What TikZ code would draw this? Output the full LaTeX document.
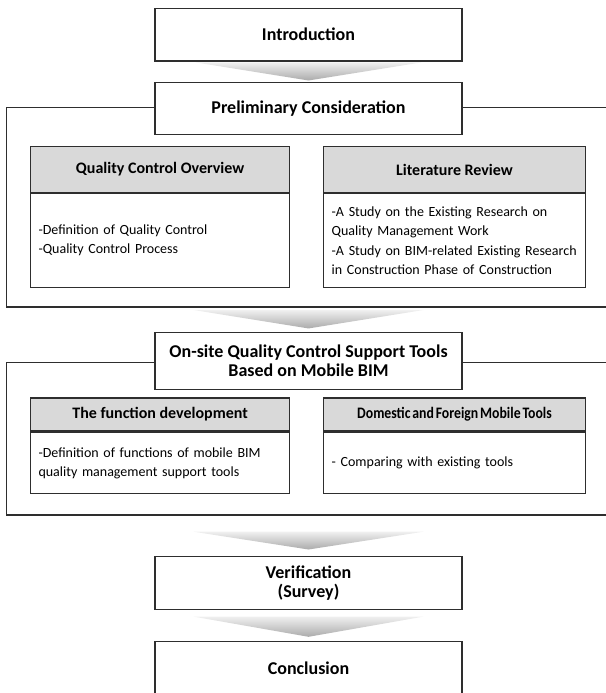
\documentclass[tikz,border=0pt]{standalone}
\usepackage{fontspec}
\setmainfont{Carlito}
\newfontfamily\condfont{Carlito}[WordSpace=0.6]
\usetikzlibrary{calc}
\tikzset{
  outl/.style={draw=black!82, line width=1.1pt},
  mainbox/.style={outl, fill=white, align=center, inner sep=0pt,
    minimum width=307pt, font=\fontsize{18}{19}\selectfont\bfseries},
  hdrbox/.style={outl, fill=black!15, align=center, inner sep=0pt,
    font=\fontsize{16}{18}\selectfont\bfseries},
  bodybox/.style={outl, fill=white, align=left, inner xsep=8pt, inner ysep=0pt,
    font=\fontsize{14}{19.3}\selectfont},
  frameline/.style={draw=black!82, line width=1.1pt},
  chev/.style={top color=black!6, bottom color=black!33, draw=none}
}
\begin{document}
\begin{tikzpicture}[x=1pt,y=-1pt]
\useasboundingbox (0,0) rectangle (605,693);

% main boxes
\node[mainbox, minimum height=52.7pt] (intro) at (308.5,34.7) {Introduction};
\node[mainbox, minimum height=51.7pt] (prelim) at (308.5,108.2) {Preliminary Consideration};
\node[mainbox, minimum height=57pt] (onsite) at (308.5,360.8) {On-site Quality Control Support Tools\\Based on Mobile BIM};
\node[mainbox, minimum height=52.3pt] (verif) at (308.5,582.9) {Verification\\(Survey)};
\node[mainbox, minimum height=53.3pt] (concl) at (308.5,668.4) {Conclusion};

% frames
\coordinate (f1tl) at (6.6,107.3);
\coordinate (f1br) at (612,307);
\coordinate (f2tl) at (6.6,362.3);
\coordinate (f2br) at (612,515);
\draw[frameline] (prelim.west |- f1tl) -- (f1tl) |- (f1br) |- (prelim.east |- f1tl);
\draw[frameline] (onsite.west |- f2tl) -- (f2tl) |- (f2br) |- (onsite.east |- f2tl);

% section 1 sub boxes
\node[hdrbox, minimum width=259.2pt, minimum height=45.6pt] (qch) at (160.1,169.5) {Quality Control Overview};
\node[bodybox, text width=243.2pt, minimum height=94.4pt, anchor=north] (qcb) at (qch.south) {-Definition of Quality Control\\-Quality Control Process};
\node[hdrbox, minimum width=261.6pt, minimum height=45.6pt] (lrh) at (454.5,169.5) {Literature Review};
\node[bodybox, text width=245.6pt, minimum height=94.4pt, anchor=north] (lrb) at (lrh.south) {-A Study on the Existing Research on\\Quality Management Work\\-A Study on BIM-related Existing Research\\in Construction Phase of Construction};

% section 2 sub boxes
\node[hdrbox, minimum width=259.2pt, minimum height=33pt] (fdh) at (160.1,414.5) {The function development};
\node[bodybox, text width=243.2pt, minimum height=61.5pt, anchor=north, font=\fontsize{14}{19}\selectfont] (fdb) at (fdh.south) {-Definition of functions of mobile BIM\\quality management support tools};
\node[hdrbox, minimum width=261.6pt, minimum height=33pt] (dmh) at (454.5,414.5) {\condfont\scalebox{0.86}[1]{Domestic and Foreign Mobile Tools}};
\node[bodybox, text width=245.6pt, minimum height=61.5pt, anchor=north] (dmb) at (dmh.south) {- Comparing with existing tools};

% chevron arrows
\shade[chev] ($(intro.south)+(-113,0.8)$) -- ($(intro.south)+(113,0.8)$) -- ($(prelim.north)+(0,-1.3)$) -- cycle;
\shade[chev] ($(f1br -| intro.south)+(-115,3)$) -- ($(f1br -| intro.south)+(115,3)$) -- ($(onsite.north)+(0,-3.3)$) -- cycle;
\shade[chev] ($(f2br -| intro.south)+(-115,16.7)$) -- ($(f2br -| intro.south)+(115,16.7)$) -- ($(verif.north)+(0,-6.7)$) -- cycle;
\shade[chev] ($(verif.south)+(-115,7)$) -- ($(verif.south)+(115,7)$) -- ($(concl.north)+(0,-4.4)$) -- cycle;
\end{tikzpicture}
\end{document}
